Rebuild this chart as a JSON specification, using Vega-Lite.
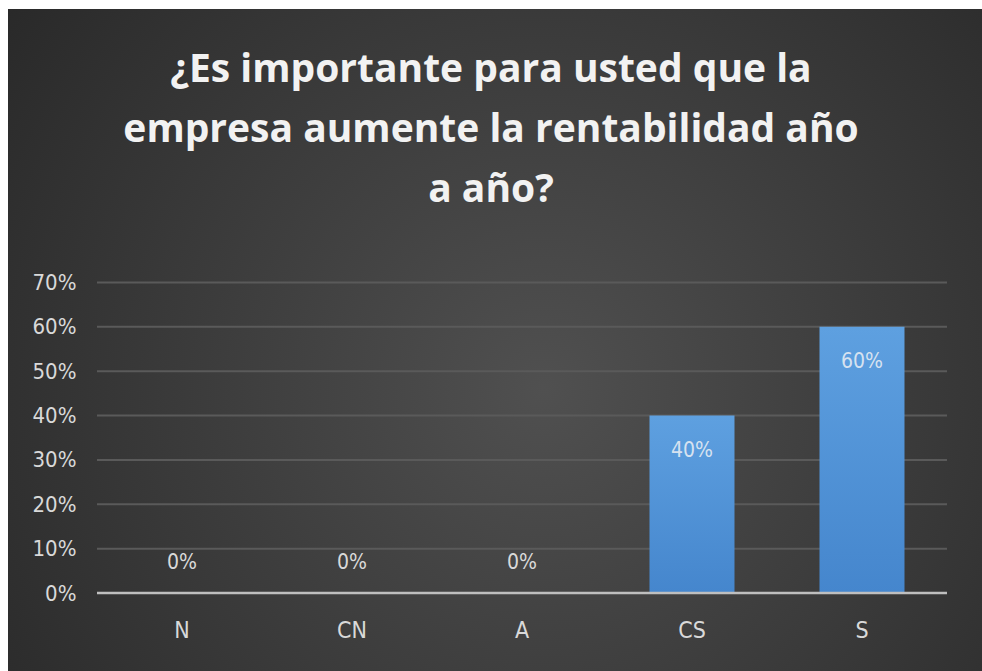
{
  "$schema": "https://vega.github.io/schema/vega-lite/v6.json",
  "width": 974,
  "height": 662,
  "autosize": {"type": "none"},
  "padding": {"left": 8, "top": 9, "right": 0, "bottom": 0},
  "background": "#ffffff",
  "title": {
    "text": ["¿Es importante para usted que la", "empresa aumente la rentabilidad año", "a año?"],
    "font": "Open Sans",
    "fontSize": 39,
    "fontWeight": "bold",
    "color": "#f2f2f2",
    "lineHeight": 60,
    "anchor": "middle",
    "baseline": "top",
    "offset": -201,
    "dx": -4
  },
  "config": {
    "view": {
      "stroke": null,
      "fill": {
        "gradient": "radial",
        "x1": 0.55, "y1": 0.55, "r1": 0,
        "x2": 0.55, "y2": 0.55, "r2": 0.75,
        "stops": [
          {"offset": 0, "color": "#505050"},
          {"offset": 1, "color": "#252525"}
        ]
      }
    },
    "axis": {
      "labelFont": "DejaVu Sans Condensed",
      "labelColor": "#d9d9d9",
      "domain": false,
      "ticks": false,
      "tickSize": 0,
      "grid": false
    }
  },
  "datasets": {
    "bars": [
      {"cat": "N", "value": 0},
      {"cat": "CN", "value": 0},
      {"cat": "A", "value": 0},
      {"cat": "CS", "value": 0.4},
      {"cat": "S", "value": 0.6}
    ],
    "grid": [
      {"g": 0.1, "a": "N", "b": "S"},
      {"g": 0.2, "a": "N", "b": "S"},
      {"g": 0.3, "a": "N", "b": "S"},
      {"g": 0.4, "a": "N", "b": "S"},
      {"g": 0.5, "a": "N", "b": "S"},
      {"g": 0.6, "a": "N", "b": "S"},
      {"g": 0.7, "a": "N", "b": "S"}
    ],
    "base": [
      {"g": 0, "a": "N", "b": "S"}
    ]
  },
  "layer": [
    {
      "data": {"name": "grid"},
      "mark": {"type": "rule", "color": "#5a5a5a", "strokeWidth": 2},
      "encoding": {
        "x": {"field": "a", "type": "nominal", "bandPosition": 0,
              "scale": {"domain": ["N", "CN", "A", "CS", "S"], "paddingInner": 0, "paddingOuter": 0.3647, "align": 0.7177},
              "axis": {"orient": "bottom", "offset": -78, "title": null, "labelFontSize": 23, "labelBaseline": "middle", "labelPadding": 37, "labelAngle": 0}},
        "x2": {"field": "b", "bandPosition": 1},
        "y": {"field": "g", "type": "quantitative",
              "scale": {"domain": [-0.1758, 1.3166], "nice": false, "zero": false},
              "axis": {"orient": "left", "offset": -89, "title": null, "values": [0, 0.1, 0.2, 0.3, 0.4, 0.5, 0.6, 0.7], "format": ".0%", "labelFontSize": 22, "labelPadding": 21, "labelBaseline": "middle"}}
      }
    },
    {
      "data": {"name": "bars"},
      "mark": {
        "type": "bar",
        "width": {"band": 0.5},
        "color": {
          "gradient": "linear",
          "x1": 0, "y1": 0, "x2": 0, "y2": 1,
          "stops": [
            {"offset": 0, "color": "#5ea0e0"},
            {"offset": 1, "color": "#4586cd"}
          ]
        }
      },
      "encoding": {
        "x": {"field": "cat", "type": "nominal"},
        "y": {"field": "value", "type": "quantitative"}
      }
    },
    {
      "data": {"name": "base"},
      "mark": {"type": "rule", "color": "#bfbfbf", "strokeWidth": 2.5},
      "encoding": {
        "x": {"field": "a", "type": "nominal", "bandPosition": 0},
        "x2": {"field": "b", "bandPosition": 1},
        "y": {"field": "g", "type": "quantitative"}
      }
    },
    {
      "data": {"name": "bars"},
      "transform": [{"filter": "datum.value == 0"}],
      "mark": {"type": "text", "font": "DejaVu Sans Condensed", "fontSize": 21, "color": "#d9d9d9", "baseline": "middle", "dy": -30},
      "encoding": {
        "x": {"field": "cat", "type": "nominal"},
        "y": {"field": "value", "type": "quantitative"},
        "text": {"field": "value", "type": "quantitative", "format": ".0%"}
      }
    },
    {
      "data": {"name": "bars"},
      "transform": [{"filter": "datum.value > 0"}],
      "mark": {"type": "text", "font": "DejaVu Sans Condensed", "fontSize": 21, "color": "#d6e2f0", "baseline": "middle", "dy": 35},
      "encoding": {
        "x": {"field": "cat", "type": "nominal"},
        "y": {"field": "value", "type": "quantitative"},
        "text": {"field": "value", "type": "quantitative", "format": ".0%"}
      }
    }
  ]
}
